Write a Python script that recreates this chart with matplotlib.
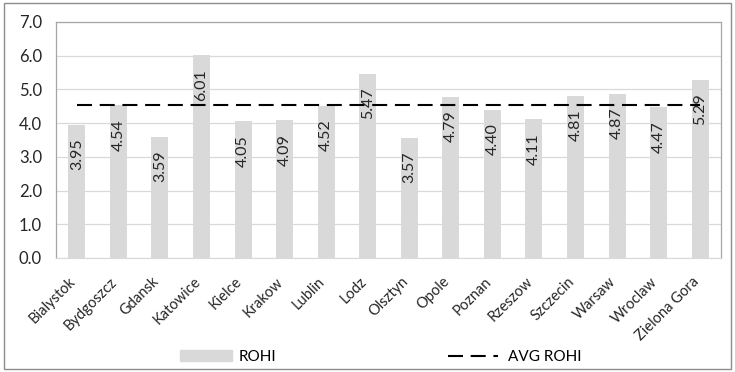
import numpy as np
import matplotlib.pyplot as plt
from matplotlib.patches import Rectangle
from matplotlib.lines import Line2D
from matplotlib.transforms import ScaledTranslation

cities = ["Bialystok", "Bydgoszcz", "Gdansk", "Katowice", "Kielce", "Krakow",
          "Lublin", "Lodz", "Olsztyn", "Opole", "Poznan", "Rzeszow",
          "Szczecin", "Warsaw", "Wroclaw", "Zielona Gora"]
rohi = [3.95, 4.54, 3.59, 6.01, 4.05, 4.09, 4.52, 5.47, 3.57, 4.79, 4.40,
        4.11, 4.81, 4.87, 4.47, 5.29]
avg_rohi = [4.53] * len(cities)

plt.rcParams['font.family'] = ['Lato', 'DejaVu Sans']

bar_color = '#d9d9d9'
dash = (0, (7.2, 3.7))

fig = plt.figure(figsize=(7.35, 3.72), dpi=100)
ax = fig.add_axes([56/735, 1 - 258/372, (721-56)/735, (258-22)/372])

x = np.arange(len(cities))
ax.bar(x, rohi, width=0.41, color=bar_color, zorder=2)
ax.plot(x, avg_rohi, color='black', linestyle=dash, lw=1.5, zorder=3)

# value labels, rotated, just inside the top of each bar
for xi, v in zip(x, rohi):
    ax.annotate(f"{v:.2f}", (xi, v), xytext=(0, -10), textcoords='offset points',
                rotation=90, ha='center', va='top', fontsize=11.5,
                color='#262626', zorder=4)

ax.set_xlim(-0.5, len(cities) - 0.5)
ax.set_ylim(0, 7)
yt = np.arange(0, 7.01, 1.0)
ax.set_yticks(yt)
ax.set_yticklabels([f"{t:.1f}" for t in yt], fontsize=12)
ax.set_xticks(x)
ax.set_xticklabels(cities, rotation=45, ha='right', rotation_mode='anchor',
                   fontsize=10.5)
ax.tick_params(length=0, colors='#262626')
ax.tick_params(axis='y', pad=10)
ax.tick_params(axis='x', pad=12)
# nudge the slanted city names left so they end under their bars
shift = ScaledTranslation(-6/72, 0, fig.dpi_scale_trans)
for lbl in ax.get_xticklabels():
    lbl.set_transform(lbl.get_transform() + shift)
ax.grid(axis='y', color=bar_color, lw=0.9, zorder=0)
for side in ['left', 'top', 'right']:
    ax.spines[side].set_color('#a6a6a6')
    ax.spines[side].set_linewidth(0.9)
ax.spines['bottom'].set_color(bar_color)

# legend entries along the bottom
fig.legend(handles=[Rectangle((0, 0), 1, 1, color=bar_color)], labels=['ROHI'],
           loc='center left', bbox_to_anchor=(180/735, 0.04), frameon=False,
           fontsize=11, handlelength=3.4, handletextpad=0.45, borderpad=0,
           borderaxespad=0)
fig.legend(handles=[Line2D([0], [0], color='black', linestyle=dash, lw=1.5)],
           labels=['AVG ROHI'], loc='center left',
           bbox_to_anchor=(448/735, 0.04), frameon=False, fontsize=11,
           handlelength=3.3, handletextpad=0.6, borderpad=0, borderaxespad=0)

fig.patches.append(Rectangle((4/735, 3/372), 727/735, 366/372, transform=fig.transFigure,
                             fill=False, edgecolor='#8c8c8c', lw=1))

fig.savefig('out.png', dpi=100)
